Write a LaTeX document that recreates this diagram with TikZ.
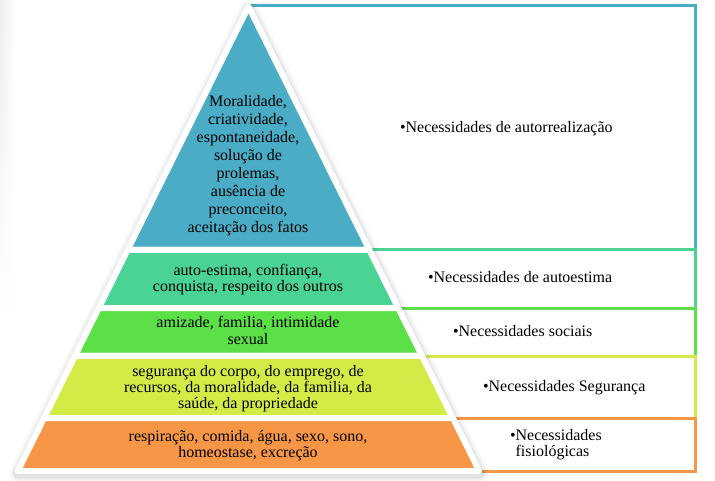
\documentclass[tikz,border=0pt]{standalone}
\usepackage{fontspec}
\setmainfont{Liberation Serif}
\usetikzlibrary{calc,fadings}
\definecolor{cblue}{HTML}{4BACC6}
\definecolor{cteal}{HTML}{4BD394}
\definecolor{cgreen}{HTML}{5CE048}
\definecolor{cyellow}{HTML}{D4EB47}
\definecolor{corange}{HTML}{F79646}
\begin{document}
\begin{tikzpicture}[x=1bp,y=-1bp,
  every node/.style={inner sep=0pt, outer sep=0pt},
  piece/.style={draw=white, line width=6bp, line join=round},
  boxline/.style={line width=3bp, line join=miter},
  toptext/.style={align=center, font=\rmfamily\fontsize{16bp}{18bp}\selectfont},
  bandtext/.style={align=center, font=\rmfamily\fontsize{16bp}{16.3bp}\selectfont},
  sidetext/.style={anchor=base west, font=\rmfamily\fontsize{16bp}{16.5bp}\selectfont}]
\useasboundingbox (0,0) rectangle (715,481);
\fill[white] (0,0) rectangle (715,481);
\shade[top color=black!7, bottom color=white, path fading=east] (0,0) rectangle (16,320);

% right-hand boxes (their left parts lie behind the pyramid)
\coordinate (b1w) at (250,6);   \coordinate (b1e) at (695.5,6);
\coordinate (b2w) at (300,250); \coordinate (b2e) at (695.5,250);
\coordinate (b3w) at (300,308); \coordinate (b3e) at (695.5,308);
\coordinate (b4w) at (300,356); \coordinate (b4e) at (695.5,356);
\coordinate (b5w) at (300,418); \coordinate (b5e) at (695.5,418);
\coordinate (b6e) at (695.5,471); \coordinate (b6w) at (478,471);
\draw[boxline, cblue]   (b1w) -- (b1e) -- (b2e);
\draw[boxline, cteal]   (b2w) -- (b2e) -- (b3e);
\draw[boxline, cgreen]  (b3w) -- (b3e) -- (b4e);
\draw[boxline, cyellow] (b4w) -- (b4e) -- (b5e);
\draw[boxline, corange] (b5w) -- (b5e) -- (b6e) -- (b6w);

% pyramid geometry
\coordinate (A) at (248.5,6.5);
\coordinate (BL) at (17.8,471);
\coordinate (BR) at (479.2,471);
\coordinate (L1) at ($(A)!0.5242!(BL)$); \coordinate (R1) at ($(A)!0.5242!(BR)$);
\coordinate (L2) at ($(A)!0.6491!(BL)$); \coordinate (R2) at ($(A)!0.6491!(BR)$);
\coordinate (L3) at ($(A)!0.7524!(BL)$); \coordinate (R3) at ($(A)!0.7524!(BR)$);
\coordinate (L4) at ($(A)!0.8859!(BL)$); \coordinate (R4) at ($(A)!0.8859!(BR)$);

% soft shadow
\foreach \w/\o in {18/0.025,14/0.035,10/0.05}
  \draw[black, opacity=\o, line width=\w bp, line join=round]
    ([shift={(0.5,2.5)}]A) -- ([shift={(0.5,2.5)}]BR) -- ([shift={(0.5,2.5)}]BL) -- cycle;

% pyramid pieces
\filldraw[piece, fill=cblue]   (A) -- (R1) -- (L1) -- cycle;
\filldraw[piece, fill=cteal]   (L1) -- (R1) -- (R2) -- (L2) -- cycle;
\filldraw[piece, fill=cgreen]  (L2) -- (R2) -- (R3) -- (L3) -- cycle;
\filldraw[piece, fill=cyellow] (L3) -- (R3) -- (R4) -- (L4) -- cycle;
\filldraw[piece, fill=corange] (L4) -- (R4) -- (BR) -- (BL) -- cycle;

% pyramid texts
\node[toptext] (p1) at (248,165.5) {Moralidade,\\criatividade,\\espontaneidade,\\solução de\\prolemas,\\ausência de\\preconceito,\\aceitação dos fatos};
\node[bandtext] (p2) at (248,279.5) {auto-estima, confiança,\\conquista, respeito dos outros};
\node[bandtext] (p3) at (248,330.4) {amizade, familia, intimidade\\sexual};
\node[bandtext] (p4) at (248,388.8) {segurança do corpo, do emprego, de\\recursos, da moralidade, da familia, da\\saúde, da propriedade};
\node[bandtext] (p5) at (248,445.3) {respiração, comida, água, sexo, sono,\\homeostase, excreção};

% side texts
\node[sidetext] (s1) at (400,133) {•Necessidades de autorrealização};
\node[sidetext] (s2) at (428,282.7) {•Necessidades de autoestima};
\node[sidetext] (s3) at (453,336) {•Necessidades sociais};
\node[sidetext] (s4) at (483,391) {•Necessidades Segurança};
\node[anchor=west, align=left, font=\rmfamily\fontsize{16bp}{16.5bp}\selectfont] (s5) at (510,444.7) {•Necessidades\\\hphantom{•}fisiológicas};
\end{tikzpicture}
\end{document}
